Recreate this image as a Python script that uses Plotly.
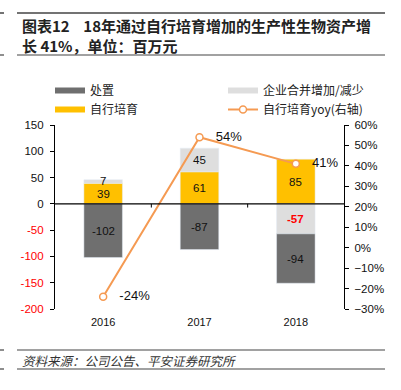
import plotly.graph_objects as go

categories = ["2016", "2017", "2018"]
disposal = [-102, -87, -94]          # 处置
merger = [7, 45, -57]                # 企业合并增加/减少
self_bred = [39, 61, 85]             # 自行培育
yoy = [-0.24, 0.54, 0.41]            # 自行培育yoy(右轴)

left_ticks = [150, 100, 50, 0, -50, -100, -150, -200]

W, H = 401, 390
ML, MR, MT, MB = 55, 57, 125, 81
PW, PH = W - ML - MR, H - MT - MB


def px(x):
    return (x - ML) / PW


def py(y):
    return (H - MB - y) / PH


FONT = "Liberation Sans, Arial, Noto Sans CJK SC, sans-serif"
CJK = "Noto Sans CJK SC, Liberation Sans, sans-serif"

C_DARK = "#6F6F6F"
C_LIGHT = "#DEDEDE"
C_YEL = "#FFC000"
C_ORG = "#F59A52"

fig = go.Figure()
fig.add_trace(go.Bar(x=categories, y=self_bred, marker_color=C_YEL, width=0.4,
                     showlegend=False, hoverinfo="skip"))
fig.add_trace(go.Bar(x=categories, y=merger, marker_color=C_LIGHT, width=0.4,
                     showlegend=False, hoverinfo="skip"))
fig.add_trace(go.Bar(x=categories, y=disposal, marker_color=C_DARK, width=0.4,
                     showlegend=False, hoverinfo="skip"))
fig.add_trace(go.Scatter(x=categories, y=yoy, yaxis="y2", mode="lines+markers+text",
                         line=dict(color=C_ORG, width=2),
                         marker=dict(symbol="circle", size=7, color="white",
                                     line=dict(color=C_ORG, width=1.5)),
                         text=[f"\u00a0\u00a0\u00a0{round(v*100)}%" for v in yoy],
                         textposition="middle right",
                         textfont=dict(size=13, color="#111", family=FONT),
                         showlegend=False, hoverinfo="skip"))

# legend entries
leg = [("处置", C_DARK, 1), ("企业合并增加/减少", C_LIGHT, 2), ("自行培育", C_YEL, 3)]
for name, col, rk in leg:
    fig.add_trace(go.Scatter(x=[categories[0]], y=[None], mode="lines", name=name,
                             line=dict(color=col, width=6), legendrank=rk, hoverinfo="skip"))
fig.add_trace(go.Scatter(x=[categories[0]], y=[None], yaxis="y2", mode="lines+markers",
                         name="自行培育yoy(右轴)",
                         line=dict(color=C_ORG, width=2), legendrank=4, hoverinfo="skip",
                         marker=dict(symbol="circle", size=7, color="white",
                                     line=dict(color=C_ORG, width=1.5))))

# data labels (segment centres)
ann = []
for i, c in enumerate(categories):
    pos = 0.0
    neg = 0.0
    for vals, tr in ((self_bred, 0), (merger, 1), (disposal, 2)):
        v = vals[i]
        if v >= 0:
            ctr = pos + v / 2
            pos += v
        else:
            ctr = neg + v / 2
            neg += v
        red = (tr == 1 and v < 0)
        yshift = 1 if (tr == 1 and 0 <= v < 15) else 0
        ann.append(dict(x=i, y=ctr, xref="x", yref="y", text=f"<b>{v}</b>" if red else str(v),
                        showarrow=False, yshift=yshift,
                        font=dict(size=11.5, color="#FF0000" if red else "#111", family=FONT)))

# title / footer
ann.append(dict(x=px(20), y=py(26), xref="paper", yref="paper", xanchor="left", yanchor="middle",
                text="<b>图表12    18年通过自行培育增加的生产性生物资产增</b>", showarrow=False,
                font=dict(size=15, color="#222", family=CJK)))
ann.append(dict(x=px(20), y=py(45), xref="paper", yref="paper", xanchor="left", yanchor="middle",
                text="<b>长 41%，单位：百万元</b>", showarrow=False,
                font=dict(size=15, color="#222", family=CJK)))
ann.append(dict(x=px(20), y=py(360), xref="paper", yref="paper", xanchor="left", yanchor="middle",
                text="<i>资料来源：公司公告、平安证券研究所</i>", showarrow=False,
                font=dict(size=12.5, color="#333", family=CJK)))

shapes = []
for yy, wd in ((13, 1.5), (55, 1.2), (350, 1.2), (369, 1.2)):
    shapes.append(dict(type="line", xref="paper", yref="paper", x0=px(17), x1=px(385),
                       y0=py(yy), y1=py(yy), line=dict(color="#444", width=wd)))
    shapes.append(dict(type="line", xref="paper", yref="paper", x0=px(0), x1=px(4),
                       y0=py(yy), y1=py(yy), line=dict(color="#444", width=wd)))
# zero axis line and category boundary ticks
shapes.append(dict(type="line", xref="paper", yref="y", x0=0, x1=1, y0=0, y1=0,
                   line=dict(color="black", width=1.2), layer="above"))
for i in range(len(categories) - 1):
    shapes.append(dict(type="line", xref="x", yref="y", x0=i + 0.5, x1=i + 0.5, y0=0, y1=-7,
                       line=dict(color="black", width=1)))

ticktext = [f'<span style="color:#FF0000">{t}</span>' if t < 0 else str(t) for t in left_ticks]

fig.update_layout(
    width=W, height=H, margin=dict(l=ML, r=MR, t=MT, b=MB),
    paper_bgcolor="white", plot_bgcolor="white",
    barmode="relative",
    font=dict(family=FONT, size=11, color="#111"),
    xaxis=dict(type="category", categoryorder="array", categoryarray=categories,
               range=[-0.5, len(categories) - 0.5],
               showline=False, showgrid=False, zeroline=False,
               ticks="outside", ticklen=3, tickcolor="white",
               tickfont=dict(size=11, color="#111")),
    yaxis=dict(range=[-200, 150], tickvals=left_ticks, ticktext=ticktext,
               showline=True, linecolor="black", linewidth=1.2,
               ticks="outside", ticklen=4, tickcolor="black",
               showgrid=False, zeroline=False, tickfont=dict(size=11.5, color="#111"),
               ticklabelstandoff=4),
    yaxis2=dict(range=[-0.3, 0.6], dtick=0.1, tickformat=".0%", overlaying="y", side="right",
                showline=True, linecolor="black", linewidth=1.2,
                ticks="outside", ticklen=4, tickcolor="black",
                showgrid=False, zeroline=False, tickfont=dict(size=11.5, color="#111"),
                ticklabelstandoff=3),
    legend=dict(orientation="h", x=px(50), y=py(76), xanchor="left", yanchor="top",
                entrywidth=128, entrywidthmode="pixels", traceorder="normal",
                font=dict(size=12, color="#222", family=CJK), bgcolor="rgba(0,0,0,0)",
                itemwidth=30, tracegroupgap=0),
    annotations=ann, shapes=shapes,
)

fig.write_html("out.html", config={"displayModeBar": False},
               post_script="document.body.style.margin='0';document.body.style.padding='0';")
